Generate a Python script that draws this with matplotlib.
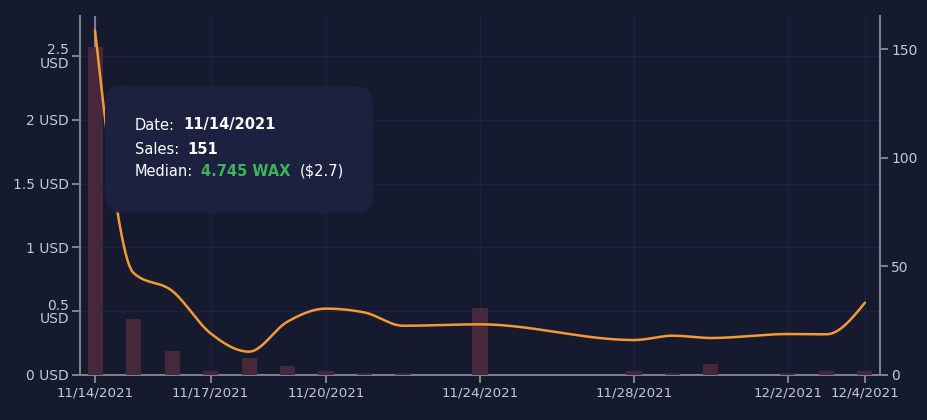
import numpy as np
import matplotlib
matplotlib.use("Agg")
import matplotlib.pyplot as plt
from matplotlib.patches import FancyBboxPatch
from matplotlib.transforms import IdentityTransform

# ---- data ----
dates = ["11/14/2021", "11/15/2021", "11/16/2021", "11/17/2021", "11/18/2021",
         "11/19/2021", "11/20/2021", "11/21/2021", "11/22/2021", "11/23/2021",
         "11/24/2021", "11/25/2021", "11/26/2021", "11/27/2021", "11/28/2021",
         "11/29/2021", "11/30/2021", "12/1/2021", "12/2/2021", "12/3/2021",
         "12/4/2021"]
sales = [151, 26, 11, 2, 8, 4, 2, 1, 1, 0, 31, 0, 0, 0, 2, 1, 5, 0, 1, 2, 2]
median_usd = [2.70, 0.80, 0.66, 0.327, 0.183, 0.418, 0.52, 0.49, 0.386, None,
              0.397, None, None, None, 0.274, 0.308, 0.29, None, 0.321, 0.319, 0.567]
xtick_labels = ["11/14/2021", "11/17/2021", "11/20/2021", "11/24/2021",
                "11/28/2021", "12/2/2021", "12/4/2021"]
left_ticks = [0, 0.5, 1, 1.5, 2, 2.5]
left_tick_labels = ["0 USD", "0.5\nUSD", "1 USD", "1.5 USD", "2 USD", "2.5\nUSD"]
right_ticks = [0, 50, 100, 150]
tooltip_date = "11/14/2021"
tooltip_sales = "151"
tooltip_wax = "4.745 WAX"
tooltip_usd = "($2.7)"

# ---- colors ----
BG = "#151a2e"
BAR = "#45293b"
LINE = "#f39a35"
AXC = "#7d7f8f"
GRID = "#1d2240"
TXT = "#c5c8dc"
TIP = "#1d2140"
GREEN = "#3cb55a"


def monotone_x(x, y, n=30):
    """d3 curveMonotoneX path sampling."""
    x = np.asarray(x, float)
    y = np.asarray(y, float)
    m = len(x)
    h = np.diff(x)
    s = np.diff(y) / h
    t = np.zeros(m)
    for i in range(1, m - 1):
        h0, h1 = h[i - 1], h[i]
        s0, s1 = s[i - 1], s[i]
        p = (s0 * h1 + s1 * h0) / (h0 + h1)
        sg = (1 if s0 >= 0 else -1) + (1 if s1 >= 0 else -1)
        t[i] = sg * min(abs(s0), abs(s1), 0.5 * abs(p))
    if m > 2:
        t[0] = (3 * s[0] - t[1]) / 2
        t[-1] = (3 * s[-1] - t[-2]) / 2
    else:
        t[:] = s[0]
    xs, ys = [], []
    for i in range(m - 1):
        u = np.linspace(0, 1, n)
        x0, x1 = x[i], x[i + 1]
        dx = (x1 - x0) / 3
        P0 = (x0, y[i]); P1 = (x0 + dx, y[i] + dx * t[i])
        P2 = (x1 - dx, y[i + 1] - dx * t[i + 1]); P3 = (x1, y[i + 1])
        bx = ((1 - u) ** 3) * P0[0] + 3 * ((1 - u) ** 2) * u * P1[0] + 3 * (1 - u) * u * u * P2[0] + u ** 3 * P3[0]
        by = ((1 - u) ** 3) * P0[1] + 3 * ((1 - u) ** 2) * u * P1[1] + 3 * (1 - u) * u * u * P2[1] + u ** 3 * P3[1]
        xs.extend(bx); ys.extend(by)
    return np.array(xs), np.array(ys)


plt.rcParams["font.family"] = ["DejaVu Sans"]

W, H = 927, 420
fig = plt.figure(figsize=(W / 100, H / 100), dpi=100, facecolor=BG)

L, R, T, B = 80, 880, 16, 375
ax = fig.add_axes([L / W, 1 - B / H, (R - L) / W, (B - T) / H])
ax.set_facecolor(BG)

xi = np.arange(len(dates))
ax.set_xlim(-0.39, len(dates) - 1 + 0.39)
ax.set_ylim(0, 2.813)

# grid & cursor on base axes
tick_pos = [dates.index(d) for d in xtick_labels]
for y in left_ticks[1:]:
    ax.axhline(y, color=GRID, lw=1, zorder=0)
for xp in tick_pos:
    ax.axvline(xp, color=GRID, lw=1, zorder=0)
ax.axvline(dates.index(tooltip_date), color=AXC, lw=1.5, zorder=1)

ax.set_yticks(left_ticks)
ax.set_yticklabels(left_tick_labels, linespacing=0.95)
ax.set_xticks(tick_pos)
ax.set_xticklabels(xtick_labels)
ax.tick_params(axis="y", colors=AXC, labelcolor=TXT, labelsize=10, length=6, width=1.5, pad=2)
ax.tick_params(axis="x", colors=AXC, labelcolor=TXT, labelsize=9.6, length=6, width=1.5, pad=2)
for side in ["top", "right"]:
    ax.spines[side].set_visible(False)
for side in ["left", "bottom"]:
    ax.spines[side].set_color(AXC)
    ax.spines[side].set_linewidth(1.5)

# bars on right axis
axr = ax.twinx()
axr.set_ylim(0, 165.4)
axr.bar(xi, sales, width=0.39, color=BAR, linewidth=0, zorder=2)
axr.set_yticks(right_ticks)
axr.tick_params(axis="y", colors=AXC, labelcolor=TXT, labelsize=10, length=6, width=1.5, pad=2)
for side in ["top", "left", "bottom"]:
    axr.spines[side].set_visible(False)
axr.spines["right"].set_color(AXC)
axr.spines["right"].set_linewidth(1.5)

# line on top
axl = ax.twinx()
axl.set_ylim(ax.get_ylim())
axl.axis("off")
px = [i for i, v in zip(xi, median_usd) if v is not None]
py = [v for v in median_usd if v is not None]
cx, cy = monotone_x(px, py)
axl.plot(cx, cy, color=LINE, lw=1.8, solid_capstyle="round")

# tooltip
tx0, ty0, tx1, ty1 = 105, 86, 373, 213
box = FancyBboxPatch((tx0 + 16, H - ty1 + 16), (tx1 - tx0) - 32, (ty1 - ty0) - 32,
                     boxstyle="round,pad=16,rounding_size=18",
                     transform=IdentityTransform(), facecolor=TIP, edgecolor="none",
                     zorder=10)
fig.patches.append(box)

fs = 10.5
renderer = fig.canvas.get_renderer()


def line_of_text(y, parts, x=135):
    for s, color, weight, gap in parts:
        t = fig.text(x / W, 1 - y / H, s, fontsize=fs, va="center", ha="left",
                     color=color, fontweight=weight, zorder=11)
        w = t.get_window_extent(renderer).width
        x += w + gap


line_of_text(125, [("Date:", "white", "normal", 8), (tooltip_date, "white", "bold", 0)])
line_of_text(150, [("Sales:", "white", "normal", 8), (tooltip_sales, "white", "bold", 0)])
line_of_text(171, [("Median:", "white", "normal", 8), (tooltip_wax, GREEN, "bold", 9),
                   (tooltip_usd, "white", "normal", 0)])

fig.savefig("out.png", dpi=100, facecolor=BG)
